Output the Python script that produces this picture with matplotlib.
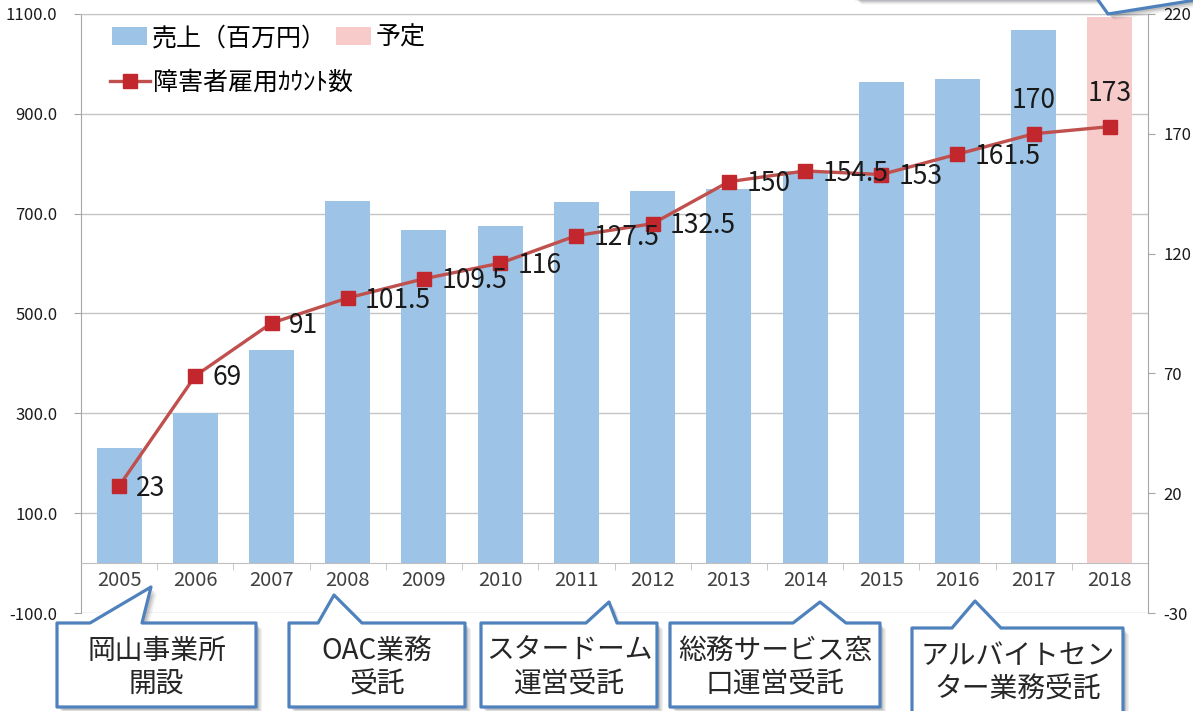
import matplotlib
matplotlib.use('Agg')
import matplotlib.pyplot as plt
import numpy as np
from matplotlib.patches import Polygon, Patch
from matplotlib.lines import Line2D

plt.rcParams['font.family'] = ['Noto Sans CJK JP', 'DejaVu Sans']

# ---------------- data ----------------
years = ['2005', '2006', '2007', '2008', '2009', '2010', '2011',
         '2012', '2013', '2014', '2015', '2016', '2017', '2018']
sales = [230, 300, 427, 725, 667, 675, 723, 745, 750, 785, 963, 970, 1068, 1094]
planned = [False] * 13 + [True]
employment = [23, 69, 91, 101.5, 109.5, 116, 127.5, 132.5, 150, 154.5, 153, 161.5, 170, 173]
left_ticks = [-100, 100, 300, 500, 700, 900, 1100]
right_ticks = [-30, 20, 70, 120, 170, 220]
legend_sales = '売上（百万円）'
legend_plan = '予定'
legend_line = '障害者雇用ｶｳﾝﾄ数'
callout_texts = ['岡山事業所\n開設', 'OAC業務\n受託', 'スタードーム\n運営受託',
                 '総務サービス窓\n口運営受託', 'アルバイトセン\nター業務受託']

# ---------------- style ----------------
BLUE = '#9DC3E6'
PINK = '#F8CBCB'
LINE = '#C0504D'
MARK = '#C1272D'
GRID = '#C4C4C4'
AXC = '#A6A6A6'
W, H = 1193, 711

fig = plt.figure(figsize=(W / 100, H / 100), dpi=100)
ax = fig.add_axes([81 / W, 1 - 613 / H, (1148 - 81) / W, (613 - 14) / H])

x = np.arange(len(years))
bar_colors = [PINK if p else BLUE for p in planned]
ax.bar(x, sales, width=0.59, color=bar_colors, zorder=2)
ax.set_xlim(-0.5, len(years) - 0.5)
ax.set_ylim(left_ticks[0], left_ticks[-1])
ax.set_yticks(left_ticks)
ax.set_yticklabels([f'{v:.1f}' for v in left_ticks])
ax.yaxis.grid(True, color=GRID, lw=1)
ax.set_axisbelow(True)

ax.spines['bottom'].set_position(('data', 0))
ax.spines['bottom'].set_color('#BFBFBF')
ax.spines['left'].set_color(AXC)
ax.spines['top'].set_color(GRID)
ax.spines['right'].set_visible(False)
ax.set_xticks(x)
ax.set_xticklabels(years)
ax.set_xticks(np.arange(len(years) + 1) - 0.5, minor=True)
ax.tick_params(axis='x', which='major', length=0, pad=5, labelsize=14.5, labelcolor='#404040')
ax.tick_params(axis='x', which='minor', length=5, color='#BFBFBF', direction='out')
ax.tick_params(axis='y', length=5, color=AXC, pad=12, labelsize=12, labelcolor='#1A1A1A')

ax2 = ax.twinx()
ax2.set_ylim(right_ticks[0], right_ticks[-1])
ax2.set_yticks(right_ticks)
ax2.set_yticklabels([str(v) for v in right_ticks])
for s in ['left', 'top', 'bottom']:
    ax2.spines[s].set_visible(False)
ax2.spines['right'].set_color(AXC)
ax2.tick_params(axis='y', length=5, color=AXC, pad=6, labelsize=12, labelcolor='#1A1A1A')
ax2.plot(x, employment, color=LINE, lw=2.4, marker='s', ms=9.5,
         mfc=MARK, mec=MARK, zorder=3)

for i, v in enumerate(employment):
    lab = f'{v:g}'
    if i >= len(employment) - 2:
        ax2.annotate(lab, (x[i], v), xytext=(0, 24), textcoords='offset points',
                     ha='center', va='center', fontsize=19, color='#1A1A1A')
    else:
        ax2.annotate(lab, (x[i], v), xytext=(12.5, -1.5), textcoords='offset points',
                     ha='left', va='center', fontsize=19, color='#1A1A1A')

# legends
h_sales = Patch(facecolor=BLUE, edgecolor='none')
h_plan = Patch(facecolor=PINK, edgecolor='none')
h_line = Line2D([], [], color=LINE, lw=2.4, marker='s', ms=9.5, mfc=MARK, mec=MARK)
leg1 = ax2.legend([h_sales, h_plan], [legend_sales, legend_plan], ncol=2,
                  loc='upper left', bbox_to_anchor=((112 - 81) / 1067, (613 - 25) / 599),
                  frameon=False, fontsize=18, handlelength=1.4, handleheight=0.75,
                  handletextpad=0.2, columnspacing=0.35, borderpad=0, borderaxespad=0)
ax2.add_artist(leg1)
ax2.legend([h_line], [legend_line], loc='upper left',
           bbox_to_anchor=((110 - 81) / 1067, (613 - 70) / 599),
           frameon=False, fontsize=18, handlelength=1.6, handletextpad=0.12,
           borderpad=0, borderaxespad=0)


# ---------------- callouts ----------------
def fpt(px, py):
    return (px / W, 1 - py / H)


def callout_poly(x0, y0, x1, y1, bl, br, tx, ty, side='top'):
    if side == 'top':
        pts = [(x0, y1), (x0, y0), (bl, y0), (tx, ty), (br, y0), (x1, y0), (x1, y1)]
    else:
        pts = [(x0, y0), (x0, y1), (bl, y1), (tx, ty), (br, y1), (x1, y1), (x1, y0)]
    return pts


def draw_callout(pts, text=None, tcx=None, tcy=None):
    for off, a in [(6, 0.06), (4.5, 0.09), (3, 0.12)]:
        sh = Polygon([fpt(px + off, py + off) for px, py in pts], closed=True,
                     transform=fig.transFigure, facecolor='black', edgecolor='none',
                     alpha=a, zorder=5)
        fig.add_artist(sh)
    poly = Polygon([fpt(px, py) for px, py in pts], closed=True,
                   transform=fig.transFigure, facecolor='white', edgecolor='#4F81BD',
                   lw=2.3, joinstyle='round', zorder=6)
    fig.add_artist(poly)
    if text is not None:
        fx, fy = fpt(tcx, tcy)
        fig.text(fx, fy, text, ha='center', va='center', fontsize=20,
                 color='#262626', linespacing=1.15, zorder=7)


boxes = [
    (57, 623, 256, 707, 90, 142, 151, 587),
    (289, 623, 465, 707, 318, 362, 334, 595),
    (481, 623, 657, 707, 586, 617, 609, 602),
    (670, 623, 880, 707, 793, 846, 820, 602),
    (912, 628, 1123, 713, 952, 1001, 975, 601),
]
for (x0, y0, x1, y1, bl, br, tx, ty), t in zip(boxes, callout_texts):
    pts = callout_poly(x0, y0, x1, y1, bl, br, tx, ty, 'top')
    draw_callout(pts, t, (x0 + x1) / 2, y0 + 45)

# top-right callout (mostly outside the picture)
draw_callout(callout_poly(855, -80, 1260, -1.5, 1097, 1205, 1108, 14, 'bottom'))

fig.savefig('out.png', dpi=100)
